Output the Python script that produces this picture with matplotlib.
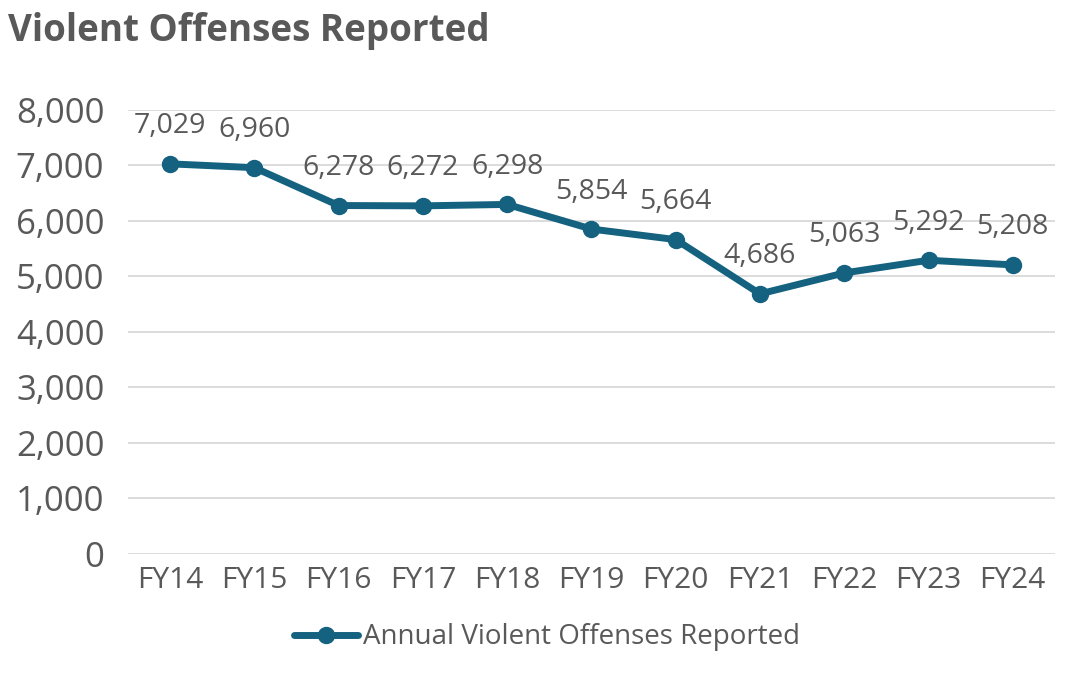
import matplotlib
matplotlib.use("Agg")
import matplotlib.pyplot as plt
from matplotlib.ticker import FuncFormatter

categories = ["FY14", "FY15", "FY16", "FY17", "FY18", "FY19", "FY20", "FY21", "FY22", "FY23", "FY24"]
values = [7029, 6960, 6278, 6272, 6298, 5854, 5664, 4686, 5063, 5292, 5208]
yticks = [0, 1000, 2000, 3000, 4000, 5000, 6000, 7000, 8000]
series_name = "Annual Violent Offenses Reported"
title = "Violent Offenses Reported"

plt.rcParams['font.family'] = ['Open Sans', 'DejaVu Sans']
LINE = "#14627F"
TXT = "#595959"

fig = plt.figure(figsize=(10.88, 6.83), dpi=100)
ax = fig.add_axes([0.1176, 0.189, 0.852, 0.650])
x = list(range(len(categories)))
ax.plot(x, values, color=LINE, lw=5, marker="o", ms=11.5, label=series_name,
        solid_capstyle="round", zorder=3)
for xi, v in zip(x, values):
    ax.annotate(f"{v:,}", (xi, v), xytext=(0, 27), textcoords="offset points",
                ha="center", va="center", fontsize=20.5, color=TXT)

ax.set_xlim(-0.5, len(categories) - 0.5)
ax.set_ylim(0, 8000)
ax.set_yticks(yticks)
ax.yaxis.set_major_formatter(FuncFormatter(lambda v, p: f"{int(v):,}"))
ax.set_xticks(x)
ax.set_xticklabels(categories)
ax.grid(axis="y", color="#D9D9D9", lw=1.3)
ax.set_axisbelow(True)
for s in ax.spines.values():
    s.set_visible(False)
ax.tick_params(axis="both", length=0, colors=TXT)
ax.tick_params(axis="y", labelsize=25, pad=17)
ax.tick_params(axis="x", labelsize=21.5, pad=9)

fig.text(0.007, 0.955, title, fontsize=26.5, fontweight="bold", color=TXT, ha="left", va="center")

leg = fig.legend(loc="center", bbox_to_anchor=(0.503, 0.067), frameon=False,
                 fontsize=20, handlelength=2.3, handletextpad=0.2)
for t in leg.get_texts():
    t.set_color(TXT)

fig.savefig("out.png", dpi=100)
